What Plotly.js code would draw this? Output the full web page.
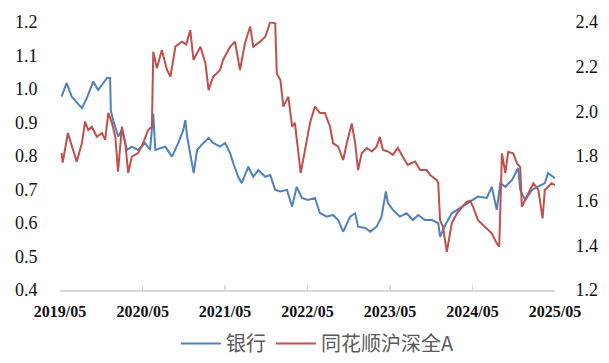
<!DOCTYPE html>
<html>
<head>
<meta charset="utf-8">
<script src="https://cdn.plot.ly/plotly-3.0.1.min.js"></script>
<style>html,body{margin:0;padding:0;background:#fff;}#chart{width:609px;height:363px;}</style>
</head>
<body>
<div id="chart"></div>
<script>
var bankDates = ["2019-05-08","2019-05-30","2019-06-22","2019-08-06","2019-08-28","2019-09-25","2019-10-17","2019-11-25","2019-12-09","2019-12-12","2019-12-22","2020-01-14","2020-01-30","2020-02-22","2020-03-14","2020-04-11","2020-05-12","2020-06-03","2020-06-17","2020-06-26","2020-08-09","2020-09-08","2020-10-06","2020-10-28","2020-11-06","2020-11-14","2020-12-13","2020-12-28","2021-01-25","2021-02-17","2021-03-09","2021-04-09","2021-05-01","2021-05-23","2021-06-06","2021-06-28","2021-07-14","2021-08-12","2021-09-03","2021-09-25","2021-10-26","2021-11-17","2021-12-09","2022-01-01","2022-01-30","2022-02-22","2022-03-14","2022-04-06","2022-05-03","2022-06-03","2022-06-25","2022-07-25","2022-08-22","2022-09-14","2022-10-06","2022-11-06","2022-11-28","2022-12-11","2023-01-12","2023-02-03","2023-03-03","2023-03-25","2023-04-13","2023-04-22","2023-05-14","2023-06-14","2023-07-14","2023-08-11","2023-09-03","2023-10-03","2023-11-03","2023-12-01","2023-12-09","2024-01-01","2024-01-30","2024-03-14","2024-04-20","2024-05-25","2024-07-03","2024-07-25","2024-08-16","2024-09-01","2024-09-23","2024-10-22","2024-11-19","2024-11-28","2024-12-20","2025-01-19","2025-02-16","2025-03-17","2025-03-31","2025-05-01"];
var bankValues = [0.977,1.018,0.977,0.943,0.973,1.022,0.997,1.033,1.033,0.937,0.907,0.858,0.878,0.818,0.828,0.818,0.839,0.818,0.927,0.818,0.828,0.798,0.839,0.878,0.907,0.858,0.749,0.818,0.839,0.854,0.839,0.828,0.839,0.809,0.779,0.738,0.719,0.768,0.738,0.758,0.738,0.743,0.699,0.694,0.699,0.649,0.708,0.675,0.669,0.675,0.630,0.619,0.624,0.609,0.574,0.619,0.629,0.589,0.585,0.574,0.589,0.619,0.694,0.660,0.639,0.619,0.629,0.609,0.624,0.609,0.609,0.600,0.559,0.594,0.629,0.649,0.664,0.679,0.675,0.708,0.639,0.719,0.708,0.728,0.764,0.699,0.669,0.699,0.708,0.719,0.749,0.734];

var indexDates = ["2019-05-08","2019-05-13","2019-06-05","2019-06-28","2019-07-14","2019-08-06","2019-08-20","2019-09-03","2019-09-19","2019-10-11","2019-11-03","2019-11-17","2019-12-01","2019-12-17","2020-01-01","2020-01-13","2020-01-30","2020-02-14","2020-02-27","2020-03-14","2020-04-11","2020-05-03","2020-05-25","2020-06-11","2020-06-17","2020-07-03","2020-07-25","2020-08-17","2020-09-01","2020-09-23","2020-10-22","2020-11-10","2020-11-28","2020-12-12","2021-01-12","2021-02-03","2021-02-17","2021-03-09","2021-04-09","2021-04-22","2021-05-23","2021-06-14","2021-07-06","2021-07-28","2021-08-20","2021-09-03","2021-10-03","2021-10-26","2021-11-17","2021-12-09","2021-12-16","2022-01-01","2022-01-14","2022-02-05","2022-02-22","2022-03-06","2022-03-19","2022-04-01","2022-04-20","2022-05-12","2022-06-03","2022-06-25","2022-07-17","2022-08-09","2022-08-22","2022-09-14","2022-10-06","2022-10-22","2022-11-13","2022-11-28","2022-12-11","2022-12-27","2023-01-19","2023-02-10","2023-03-03","2023-03-17","2023-03-31","2023-04-22","2023-05-14","2023-06-05","2023-06-27","2023-07-19","2023-08-20","2023-09-12","2023-10-11","2023-10-26","2023-11-25","2023-12-01","2023-12-09","2023-12-22","2024-01-08","2024-01-30","2024-02-22","2024-03-14","2024-04-05","2024-04-20","2024-05-03","2024-05-25","2024-06-25","2024-07-25","2024-08-16","2024-08-27","2024-09-08","2024-09-23","2024-10-06","2024-10-28","2024-11-14","2024-11-28","2024-12-05","2024-12-27","2025-01-25","2025-02-16","2025-03-07","2025-03-17","2025-04-16","2025-05-01"];
var indexValues = [1.813,1.770,1.903,1.827,1.774,1.858,1.954,1.916,1.931,1.886,1.903,1.872,1.993,1.948,1.886,1.730,1.931,1.858,1.724,1.797,1.813,1.858,1.916,1.931,2.267,2.193,2.275,2.185,2.155,2.290,2.312,2.300,2.364,2.230,2.289,2.215,2.095,2.155,2.185,2.230,2.289,2.312,2.185,2.305,2.380,2.289,2.312,2.334,2.400,2.393,2.170,2.140,2.021,2.066,1.931,1.948,1.827,1.724,1.827,1.948,2.021,1.993,1.993,1.931,1.858,1.842,1.782,1.858,1.946,1.858,1.737,1.812,1.836,1.820,1.842,1.886,1.827,1.820,1.805,1.836,1.797,1.760,1.775,1.737,1.737,1.715,1.692,1.678,1.513,1.483,1.371,1.500,1.543,1.570,1.595,1.600,1.573,1.513,1.483,1.454,1.409,1.394,1.812,1.724,1.819,1.812,1.767,1.750,1.573,1.618,1.678,1.650,1.521,1.648,1.678,1.670];

var seriesNames = ["银行", "同花顺沪深全A"];

var traces = [
  {x: bankDates, y: bankValues, name: seriesNames[0], type: "scatter", mode: "lines",
   line: {color: "#4F81BD", width: 2}, yaxis: "y"},
  {x: indexDates, y: indexValues, name: seriesNames[1], type: "scatter", mode: "lines",
   line: {color: "#C0504D", width: 2}, yaxis: "y2"}
];

var layout = {
  width: 609, height: 363,
  margin: {l: 60, r: 54, t: 22, b: 73, autoexpand: false},
  paper_bgcolor: "#fff", plot_bgcolor: "#fff",
  showlegend: true,
  legend: {orientation: "h", x: 0.52, xanchor: "center", y: -0.2, yanchor: "middle",
           font: {family: "Noto Sans CJK SC, sans-serif", size: 20, color: "#595959"},
           itemwidth: 40, traceorder: "normal"},
  xaxis: {
    type: "date", range: ["2019-05-01", "2025-05-01"],
    tick0: "2019-05-01", dtick: "M12", tickformat: "%Y/%m",
    showgrid: false, zeroline: false,
    showline: true, linecolor: "#D9D9D9", linewidth: 1.5,
    ticks: "inside", ticklen: 5, tickcolor: "#D9D9D9", tickwidth: 1.5,
    ticklabelstandoff: 6,
    tickfont: {family: "Liberation Serif, serif", size: 16, color: "#111", weight: "bold"}
  },
  yaxis: {
    range: [0.4, 1.2], dtick: 0.1, tickformat: ".1f",
    showgrid: false, zeroline: false, showline: false,
    ticks: "outside", ticklen: 18, tickcolor: "rgba(0,0,0,0)",
    tickfont: {family: "Liberation Serif, serif", size: 18, color: "#111"}
  },
  yaxis2: {
    range: [1.2, 2.4], dtick: 0.2, tickformat: ".1f",
    overlaying: "y", side: "right",
    showgrid: false, zeroline: false, showline: false,
    ticks: "outside", ticklen: 16, tickcolor: "rgba(0,0,0,0)",
    tickfont: {family: "Liberation Serif, serif", size: 18, color: "#111"}
  }
};

Plotly.newPlot("chart", traces, layout, {displayModeBar: false, staticPlot: true});
</script>
</body>
</html>
